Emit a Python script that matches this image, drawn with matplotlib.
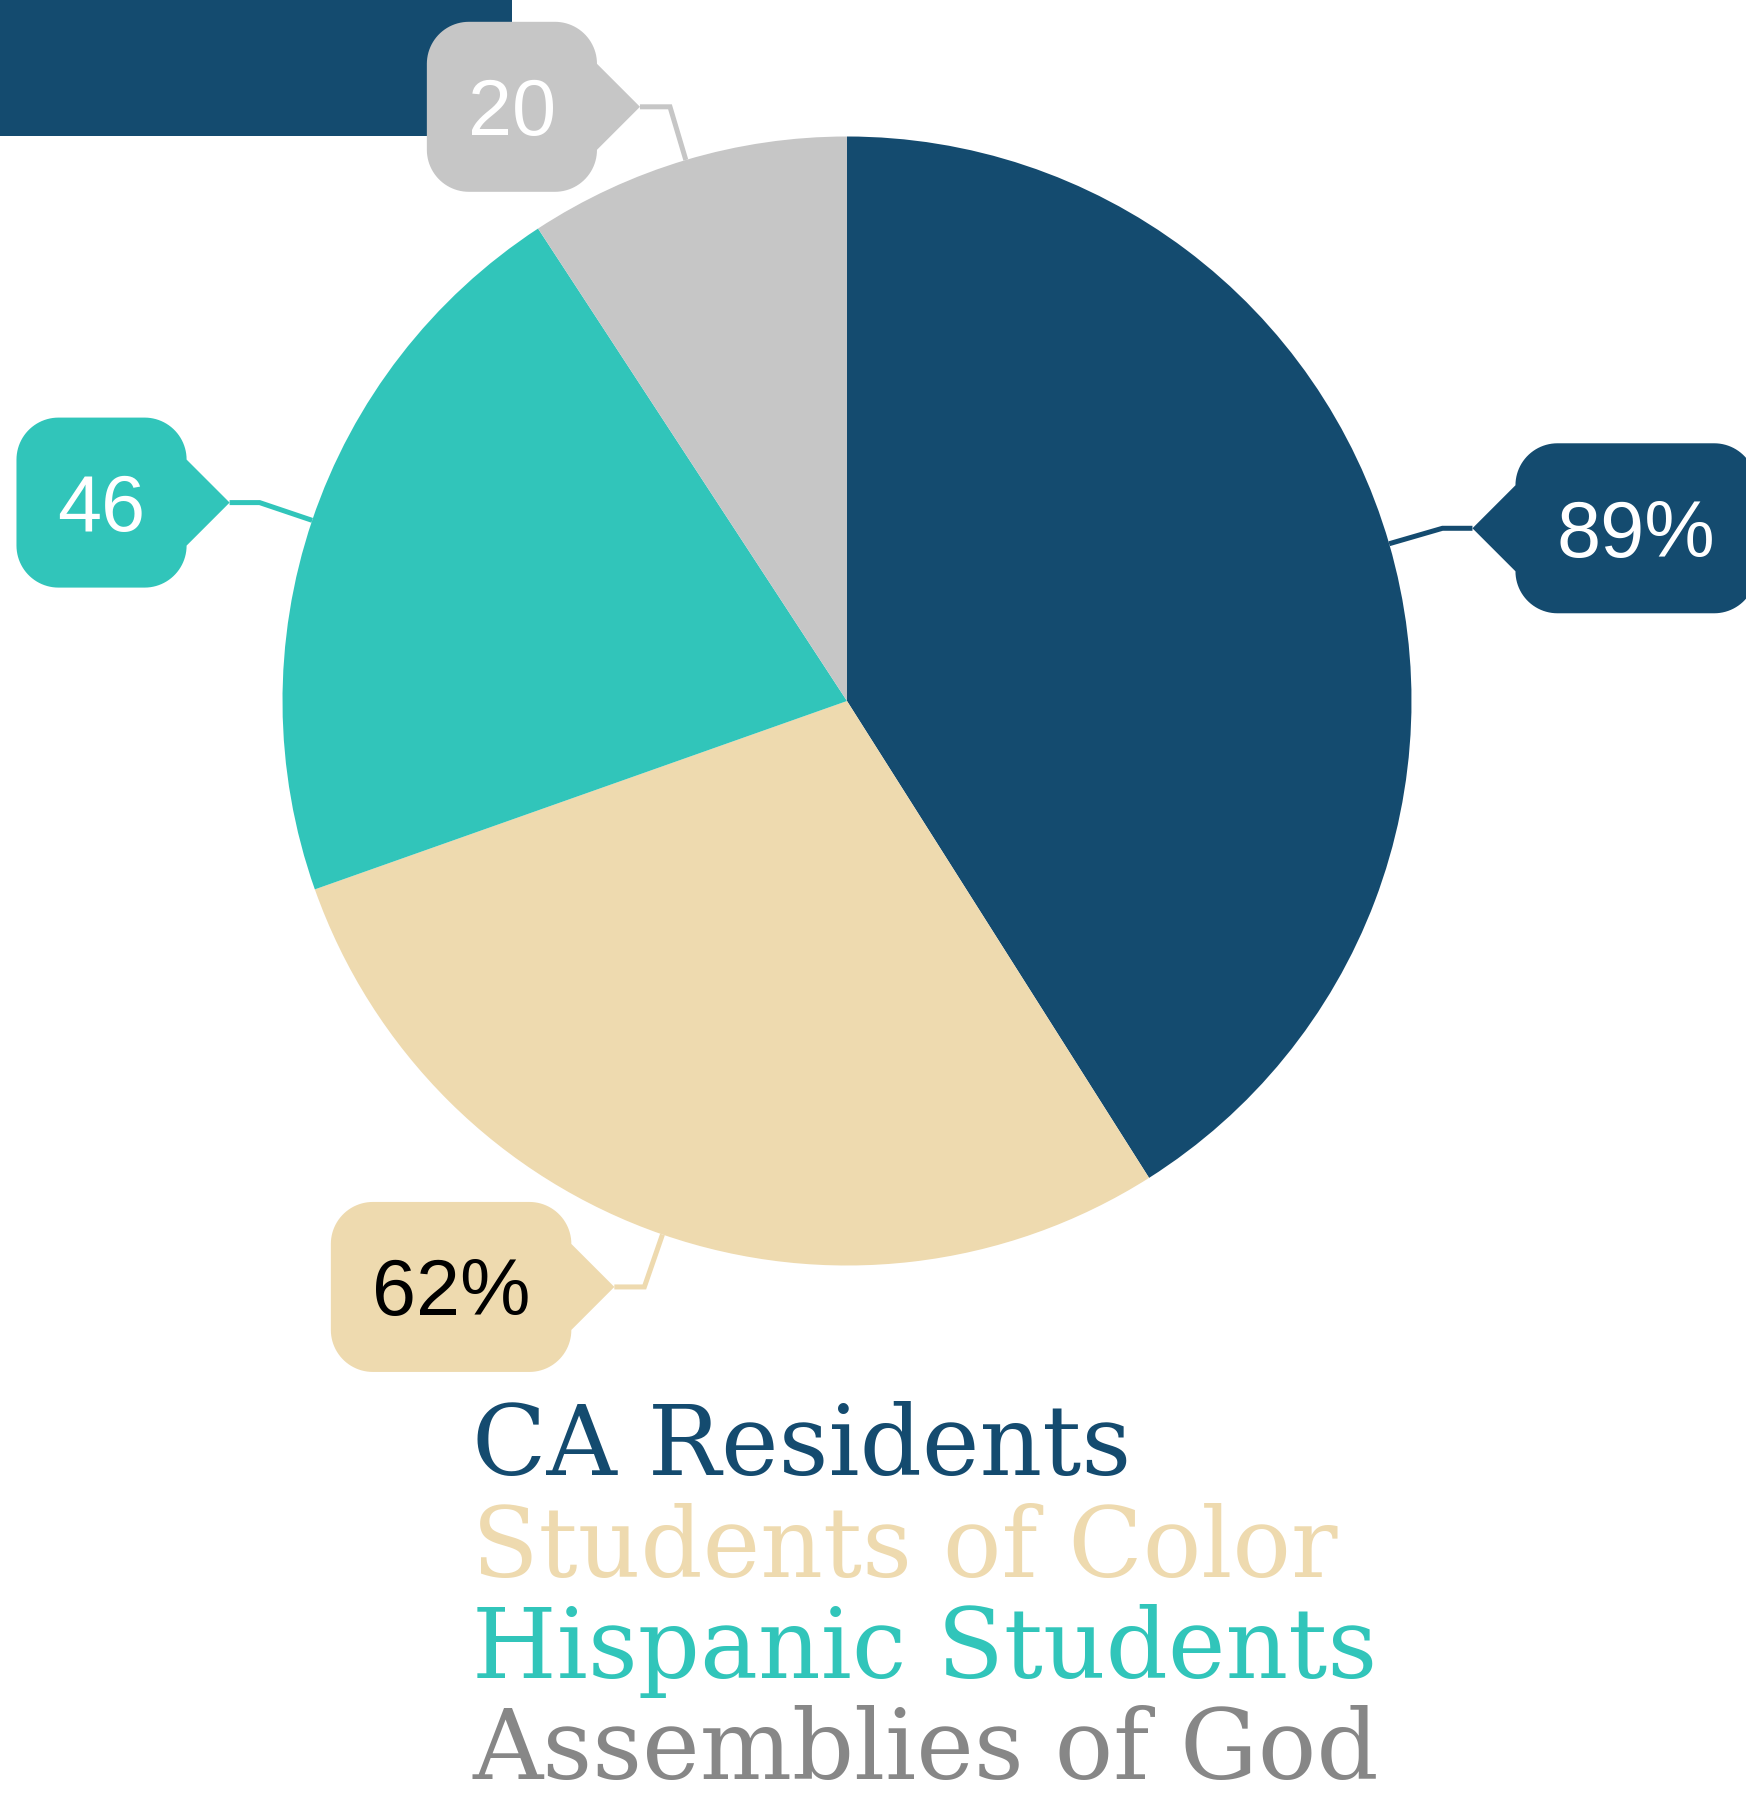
import numpy as np
import matplotlib
matplotlib.use("Agg")
import matplotlib.pyplot as plt
from matplotlib.patches import Polygon, Rectangle

# ---- data ----
categories = ["CA Residents", "Students of Color", "Hispanic Students", "Assemblies of God"]
values = [89, 62, 46, 20]
labels = ["89%", "62%", "46", "20"]
colors = ["#144b6f", "#eedaaf", "#31c5ba", "#c6c6c6"]
label_text_colors = ["white", "black", "white", "white"]
legend_colors = ["#144b6f", "#eedaaf", "#31c5ba", "#878787"]

W, H = 1746, 1795
fig = plt.figure(figsize=(W / 100, H / 100), dpi=100)
ax = fig.add_axes([0, 0, 1, 1])

cx, cy, R = 847, 701, 564.5

ax.pie(values, colors=colors, center=(cx, cy), radius=R, startangle=-90,
       counterclock=True, wedgeprops=dict(linewidth=0))
ax.set_xlim(0, W)
ax.set_ylim(H, 0)
ax.set_aspect("auto")
ax.axis("off")

# title bar remnant
ax.add_patch(Rectangle((0, 0), 512, 136, color="#144b6f", lw=0, zorder=1))


def arc(xc, yc, r, a0, a1, n=24):
    t = np.deg2rad(np.linspace(a0, a1, n))
    return list(zip(xc + r * np.cos(t), yc + r * np.sin(t)))


def callout_shape(tx, ty, bw, bh, rc, arrow, side):
    """Rounded box with arrow whose tip is (tx, ty); y axis points down."""
    y0, y1 = ty - bh / 2, ty + bh / 2
    if side > 0:
        x0 = tx + arrow
        x1 = x0 + bw
    else:
        x1 = tx - arrow
        x0 = x1 - bw
    pts = []
    # go around: top-left, top-right, bottom-right, bottom-left (angles in y-down coords)
    pts += arc(x0 + rc, y0 + rc, rc, 180, 270)
    pts += arc(x1 - rc, y0 + rc, rc, 270, 360)
    if side < 0:
        pts += [(x1, ty - arrow), (tx, ty), (x1, ty + arrow)]
    pts += arc(x1 - rc, y1 - rc, rc, 0, 90)
    pts += arc(x0 + rc, y1 - rc, rc, 90, 180)
    if side > 0:
        pts += [(x0, ty + arrow), (tx, ty), (x0, ty - arrow)]
    return pts, (x0 + x1) / 2


fracs = np.array(values) / np.sum(values)
cum = np.concatenate([[0], np.cumsum(fracs)])
mids = (cum[:-1] + cum[1:]) / 2 * 360  # degrees, clockwise from top

box_h, rc, arrow = 170, 42, 43
pad = 41
fs = 57
fig.canvas.draw()
renderer = fig.canvas.get_renderer()
for lab, col, tcol, phi in zip(labels, colors, label_text_colors, mids):
    p = np.deg2rad(phi)
    sx, sy = np.sin(p), -np.cos(p)
    ex, ey = cx + R * sx, cy + R * sy
    bx, by = cx + 620 * sx, cy + 620 * sy
    side = 1 if sx > 0 else -1
    tx, ty = bx + side * 30, by
    ax.plot([ex, bx, tx], [ey, by, ty], color=col, lw=3.6, solid_joinstyle="miter",
            solid_capstyle="butt", zorder=3)
    t = ax.text(0, 0, lab, fontsize=fs, family="Liberation Sans")
    tw = t.get_window_extent(renderer).width
    t.remove()
    bw = tw + 2 * pad
    pts, xc = callout_shape(tx, ty, bw, box_h, rc, arrow, side)
    ax.add_patch(Polygon(pts, closed=True, fc=col, ec="none", lw=0, zorder=4))
    cap = fs * 100 / 72 * 0.716
    ax.text(xc, ty + cap / 2, lab, fontsize=fs, family="Liberation Sans",
            color=tcol, ha="center", va="baseline", zorder=5)

# legend text
base_y = [1475, 1577, 1678, 1779]
for cat, col, yb in zip(categories, legend_colors, base_y):
    ax.text(472, yb, cat, fontsize=70, family="DejaVu Serif",
            color=col, ha="left", va="baseline", zorder=5)

fig.savefig("out.png", dpi=100)
